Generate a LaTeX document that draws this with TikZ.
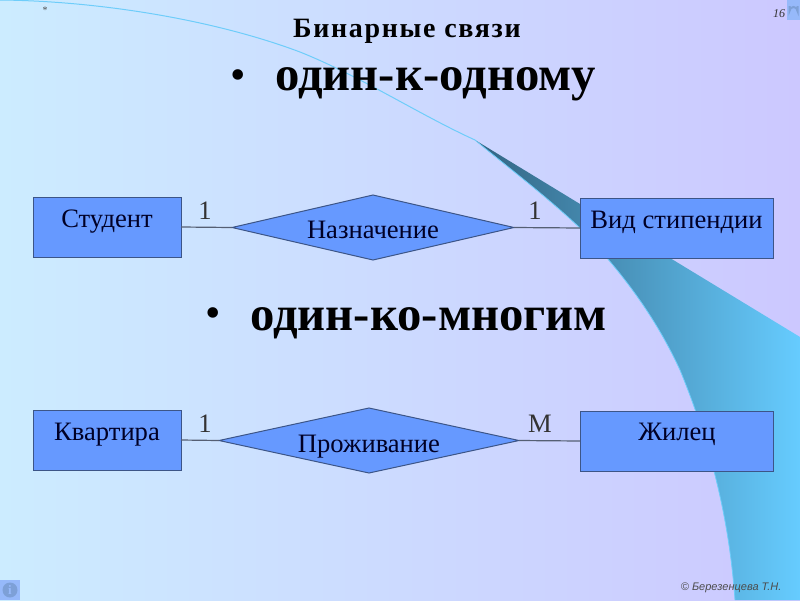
\documentclass[tikz,border=0pt]{standalone}
\usepackage{fontspec}
\setmainfont{Liberation Serif}
\newfontfamily\footfont{Liberation Sans}
\usetikzlibrary{shapes.geometric}
\definecolor{bgL}{RGB}{204,236,255}
\definecolor{bgR}{RGB}{204,200,255}
\definecolor{swL}{RGB}{50,100,130}
\definecolor{swR}{RGB}{102,204,255}
\definecolor{sweep}{RGB}{110,205,250}
\definecolor{boxfill}{RGB}{102,153,255}
\definecolor{boxline}{RGB}{60,85,135}
\definecolor{linkline}{RGB}{85,95,115}
\definecolor{icon}{RGB}{150,185,250}
\definecolor{iconmark}{RGB}{125,160,215}
\tikzset{
  x=1pt,y=-1pt,
  entity/.style={draw=boxline,fill=boxfill,line width=1pt,rectangle,outer sep=0pt,inner sep=0pt},
  relation/.style={draw=boxline,fill=boxfill,line width=1pt,diamond,outer sep=0pt,inner sep=0pt},
  boxtext/.style={font=\fontsize{26.6}{30}\selectfont,text=black!85!blue,anchor=base,inner sep=0pt},
  card/.style={font=\fontsize{26.6}{30}\selectfont,text=black!80,anchor=base,inner sep=0pt},
  link/.style={draw=linkline,line width=1.2pt},
  bulleted/.style={font=\bfseries\fontsize{48.7}{54}\selectfont,text=black,anchor=base west,inner sep=0pt},
  bulletmark/.style={font=\fontsize{44}{50}\selectfont,text=black},
}
\begin{document}
\begin{tikzpicture}
\useasboundingbox (0,0) rectangle (800,600);
\shade[left color=bgL,right color=bgR] (0,0) rectangle (800,600);
% swoosh
\draw[sweep,line width=1pt] (0,0) .. controls (100,1) and (215,20) .. (300,52)
  .. controls (360,76) and (420,115) .. (475,140);
\shade[left color=swL,right color=swR]
  (475,140) -- (580,204) -- (670,258) -- (800,337) -- (800,600) -- (735,600)
  .. controls (730,530) and (715,455) .. (680,370)
  .. controls (650,305) and (610,260) .. (580,228)
  .. controls (545,195) and (505,165) .. (475,140) -- cycle;
\draw[sweep,line width=.8pt] (735,600)
  .. controls (730,530) and (715,455) .. (680,370)
  .. controls (650,305) and (610,260) .. (580,228)
  .. controls (545,195) and (505,165) .. (475,140);
% icons
\fill[icon] (787,0) rectangle (800,20);
\draw[iconmark,line width=2pt] (789.5,6) -- (789.5,11) arc[start angle=180,end angle=360,radius=4] -- (797.5,6);
\fill[icon] (0,580) rectangle (20,600);
\node[circle,fill=iconmark,minimum size=15pt,inner sep=0pt,text=icon,font=\bfseries\fontsize{13}{13}\selectfont] (info) at (10,590) {i};
% headings
\node[font=\bfseries\fontsize{28}{30}\selectfont\addfontfeatures{LetterSpace=6},anchor=base,inner sep=0pt] (title) at (407,37) {Бинарные связи};
\node[bulletmark] (b1) at (238,80) {•};
\node[bulleted] (h1) at (275,90) {один-к-одному};
\node[bulletmark] (b2) at (213,318) {•};
\node[bulleted] (h2) at (250,330) {один-ко-многим};
% first row
\node[entity,minimum width=148,minimum height=60] (s) at (107,227) {};
\node[entity,minimum width=193,minimum height=60] (v) at (676.5,228) {};
\node[relation,minimum width=282,minimum height=65] (n) at (373,227.5) {};
\node[boxtext] (st) at (107,227) {Студент};
\node[boxtext] (vt) at (676.5,228) {Вид стипендии};
\node[boxtext] (nt) at (373,238) {Назначение};
\draw[link] (s.east) -- (n.west);
\draw[link] (n.east) -- (v.west);
\node[card] (c1) at (205,219) {1};
\node[card] (c2) at (535,219) {1};
% second row
\node[entity,minimum width=148,minimum height=60] (k) at (107,440) {};
\node[entity,minimum width=193,minimum height=60] (z) at (676.5,441) {};
\node[relation,minimum width=300,minimum height=65] (p) at (369,440.5) {};
\node[boxtext] (kt) at (107,440) {Квартира};
\node[boxtext] (zt) at (677,440) {Жилец};
\node[boxtext] (pt) at (369,452) {Проживание};
\draw[link] (k.east) -- (p.west);
\draw[link] (p.east) -- (z.west);
\node[card] (c3) at (205,432) {1};
\node[card] (c4) at (540,432) {M};
% furniture
\node[font=\fontsize{10}{10}\selectfont,text=black!70] (star) at (45,10) {*};
\node[font=\itshape\fontsize{12}{12}\selectfont,text=black!80] (num) at (779,14) {16};
\node[font=\footfont\itshape\fontsize{11}{11}\selectfont,text=black!70,anchor=east] (foot) at (785,588) {© Березенцева Т.Н.};
\end{tikzpicture}
\end{document}
